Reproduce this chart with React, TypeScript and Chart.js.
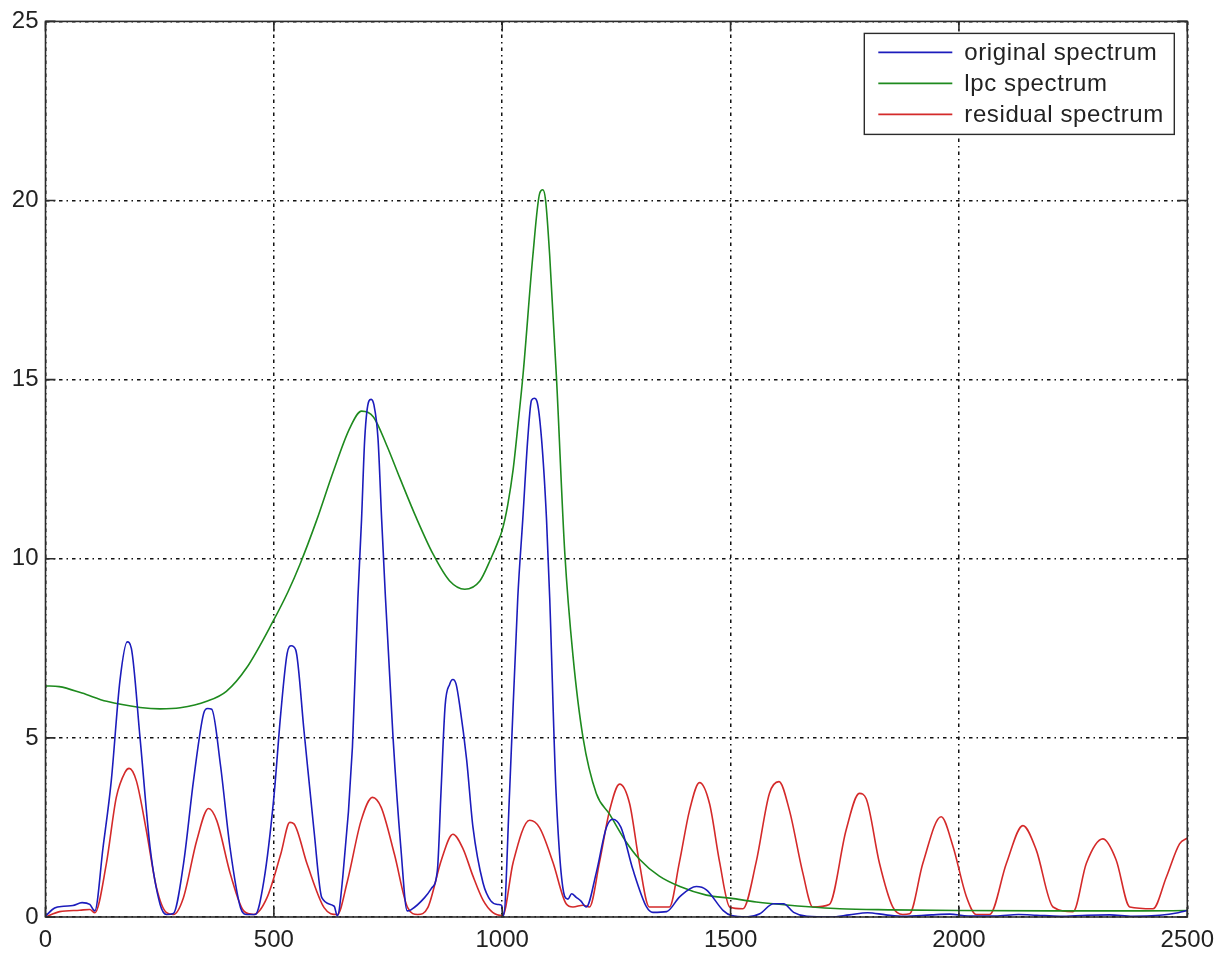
import { useEffect, useRef } from "react";
import { Chart, registerables } from "chart.js";

Chart.register(...registerables);

// ---- axis ticks ----
const xTickValues = [0, 500, 1000, 1500, 2000, 2500];
const yTickValues = [0, 5, 10, 15, 20, 25];

// ---- series labels ----
const seriesLabels = ["original spectrum", "lpc spectrum", "residual spectrum"];

// ---- original spectrum ----
const origFreq = [
  0, 20, 40, 60, 80, 97, 108, 126, 144, 163, 179, 188, 207, 229, 251, 265, 280, 302, 324, 346,
  355, 364, 383, 404, 427, 441, 459, 478, 500, 515, 529, 538, 548, 566, 588, 605, 632, 639, 650, 672,
  684, 692, 699, 708, 713, 719, 728, 736, 744, 761, 778, 792, 800, 830, 845, 858, 866, 875, 885, 892,
  899, 907, 922, 936, 958, 975, 990, 998, 1003, 1016, 1034, 1045, 1056, 1064, 1070, 1076, 1086, 1097, 1104, 1118,
  1137, 1144, 1152, 1162, 1172, 1184, 1206, 1228, 1242, 1260, 1286, 1316, 1330, 1360, 1389, 1425, 1447, 1484, 1502, 1535,
  1564, 1594, 1616, 1638, 1667, 1720, 1760, 1800, 1840, 1880, 1940, 1980, 2020, 2080, 2130, 2170, 2220, 2280, 2330, 2380,
  2440, 2480, 2500,
];
const origMag = [
  0.03, 0.25, 0.3, 0.32, 0.4, 0.35, 0.17, 1.94, 3.8, 6.6, 7.68, 7.5, 5.0, 1.94, 0.35, 0.07, 0.1, 1.47, 3.8, 5.67,
  5.82, 5.8, 4.25, 1.94, 0.26, 0.07, 0.07, 1.0, 3.34, 5.67, 7.35, 7.57, 7.45, 5.2, 2.4, 0.54, 0.3, 0.03, 1.0, 4.74,
  8.9, 11.1, 13.36, 14.4, 14.45, 14.3, 13.36, 11.1, 9.0, 5.0, 1.94, 0.17, 0.2, 0.54, 0.8, 1.3, 3.5, 5.9, 6.5, 6.63,
  6.5, 5.9, 4.4, 2.5, 0.95, 0.45, 0.35, 0.33, 0.04, 3.45, 8.9, 11.1, 13.36, 14.42, 14.48, 14.4, 13.36, 11.1, 8.9, 3.45,
  0.57, 0.5, 0.65, 0.55, 0.45, 0.28, 1.24, 2.5, 2.73, 2.5, 1.33, 0.28, 0.13, 0.15, 0.57, 0.85, 0.76, 0.18, 0.04, 0.0,
  0.09, 0.37, 0.37, 0.13, 0.02, 0.0, 0.06, 0.12, 0.06, 0.02, 0.06, 0.08, 0.03, 0.03, 0.07, 0.05, 0.02, 0.05, 0.06, 0.02,
  0.05, 0.12, 0.18,
];

// ---- lpc spectrum ----
const lpcFreq = [
  0, 30, 80, 134, 207, 251, 295, 353, 396, 440, 498, 531, 557, 593, 630, 666, 692, 718, 747, 776,
  812, 849, 885, 918, 951, 975, 990, 1000, 1012, 1024, 1035, 1046, 1067, 1082, 1089, 1095, 1104, 1119, 1137, 1155,
  1177, 1206, 1235, 1271, 1300, 1344, 1389, 1447, 1502, 1556, 1629, 1739, 1850, 2000, 2200, 2400, 2500,
];
const lpcMag = [
  6.45, 6.43, 6.25, 6.02, 5.85, 5.81, 5.84, 6.02, 6.3, 6.95, 8.25, 9.08, 9.84, 11.05, 12.43, 13.64, 14.12, 13.96, 13.17, 12.25,
  11.14, 10.12, 9.38, 9.15, 9.38, 10.0, 10.45, 10.8, 11.5, 12.5, 13.8, 15.2, 18.45, 20.2, 20.3, 20.0, 18.45, 15.0, 10.16, 7.28,
  5.0, 3.45, 2.87, 2.1, 1.62, 1.14, 0.85, 0.61, 0.52, 0.42, 0.33, 0.23, 0.2, 0.18, 0.17, 0.17, 0.18,
];

// ---- residual spectrum ----
const resFreq = [
  0, 31, 75, 97, 108, 133, 155, 174, 183, 199, 221, 243, 265, 280, 302, 331, 357, 375, 405, 434,
  456, 485, 515, 535, 544, 573, 610, 639, 661, 691, 716, 735, 764, 793, 815, 837, 867, 892, 914, 936,
  958, 979, 1001, 1024, 1060, 1082, 1111, 1140, 1155, 1177, 1191, 1213, 1235, 1257, 1279, 1300, 1322, 1366, 1388, 1410,
  1432, 1454, 1476, 1498, 1527, 1556, 1585, 1606, 1629, 1658, 1680, 1716, 1753, 1782, 1797, 1826, 1855, 1877, 1892, 1921,
  1961, 1987, 2016, 2038, 2067, 2104, 2140, 2169, 2206, 2250, 2279, 2315, 2344, 2374, 2425, 2454, 2483, 2500,
];
const resMag = [
  0.0, 0.15, 0.19, 0.21, 0.12, 1.47, 3.34, 4.04, 4.15, 3.8, 2.4, 0.82, 0.12, 0.07, 0.54, 2.13, 3.03, 2.69, 1.19, 0.17,
  0.07, 0.54, 1.75, 2.64, 2.6, 1.47, 0.26, 0.07, 1.0, 2.69, 3.34, 3.06, 1.75, 0.26, 0.07, 0.26, 1.6, 2.31, 1.91, 1.14,
  0.47, 0.13, 0.04, 1.53, 2.7, 2.49, 1.53, 0.37, 0.28, 0.33, 0.28, 1.53, 2.97, 3.71, 3.16, 1.53, 0.28, 0.28, 1.53, 2.97,
  3.75, 3.16, 1.53, 0.28, 0.23, 1.53, 3.45, 3.78, 2.97, 1.24, 0.28, 0.35, 2.43, 3.45, 3.3, 1.5, 0.28, 0.07, 0.09, 1.5,
  2.8, 1.97, 0.58, 0.07, 0.07, 1.5, 2.55, 1.88, 0.28, 0.15, 1.5, 2.18, 1.6, 0.28, 0.23, 1.11, 2.04, 2.2,
];

const seriesColors = ["#1c1cbc", "#1e8a1e", "#d42a2a"];

const zip = (xs: number[], ys: number[]) => xs.map((x, i) => ({ x, y: ys[i] }));

const frameAndLegend = {
  id: "frameAndLegend",
  afterDatasetsDraw(chart: any) {
    const { ctx, chartArea: a, scales } = chart;
    ctx.save();
    ctx.setLineDash([]);
    ctx.strokeStyle = "#2b2b2b";
    ctx.lineWidth = 1.6;
    ctx.strokeRect(a.left, a.top, a.right - a.left, a.bottom - a.top);
    const L = 10;
    ctx.beginPath();
    scales.x.ticks.forEach((t: any) => {
      const px = scales.x.getPixelForValue(t.value);
      ctx.moveTo(px, a.bottom);
      ctx.lineTo(px, a.bottom - L);
      ctx.moveTo(px, a.top);
      ctx.lineTo(px, a.top + L);
    });
    scales.y.ticks.forEach((t: any) => {
      const py = scales.y.getPixelForValue(t.value);
      ctx.moveTo(a.left, py);
      ctx.lineTo(a.left + L, py);
      ctx.moveTo(a.right, py);
      ctx.lineTo(a.right - L, py);
    });
    ctx.stroke();

    // legend box
    const w = 310;
    const h = 101;
    const bx = a.right - 13 - w;
    const by = a.top + 12;
    ctx.fillStyle = "#ffffff";
    ctx.fillRect(bx, by, w, h);
    ctx.lineWidth = 1.4;
    ctx.strokeStyle = "#2b2b2b";
    ctx.strokeRect(bx, by, w, h);
    ctx.font = '24px "Liberation Sans", Arial, sans-serif';
    (ctx as any).letterSpacing = "0.6px";
    ctx.textBaseline = "middle";
    ctx.textAlign = "left";
    chart.data.datasets.forEach((ds: any, i: number) => {
      const ry = by + 19 + i * 31;
      ctx.strokeStyle = ds.borderColor;
      ctx.lineWidth = 1.6;
      ctx.beginPath();
      ctx.moveTo(bx + 14, ry);
      ctx.lineTo(bx + 88, ry);
      ctx.stroke();
      ctx.fillStyle = "#222222";
      ctx.fillText(ds.label, bx + 100, ry + 1);
    });
    ctx.restore();
  },
};

export default function App() {
  const canvasRef = useRef<HTMLCanvasElement | null>(null);

  useEffect(() => {
    if (!canvasRef.current) return;
    const tickFont = { family: '"Liberation Sans", Arial, sans-serif', size: 24 };
    const gridCommon = {
      color: "#111111",
      lineWidth: 1.5,
      drawTicks: false,
    };
    const gridDash = [3.5, 4, 1.5, 4];
    const chart = new Chart(canvasRef.current, {
      type: "line",
      data: {
        datasets: [
          { label: seriesLabels[0], data: zip(origFreq, origMag), borderColor: seriesColors[0] },
          { label: seriesLabels[1], data: zip(lpcFreq, lpcMag), borderColor: seriesColors[1] },
          { label: seriesLabels[2], data: zip(resFreq, resMag), borderColor: seriesColors[2] },
        ].map((d) => ({
          ...d,
          backgroundColor: d.borderColor,
          borderWidth: 1.6,
          pointRadius: 0,
          fill: false,
          cubicInterpolationMode: "monotone" as const,
        })),
      },
      options: {
        animation: false,
        responsive: true,
        maintainAspectRatio: false,
        layout: { padding: { top: 20, right: 35, left: 0, bottom: 0 } },
        plugins: {
          legend: { display: false },
          title: { display: false },
          tooltip: { enabled: false },
        },
        scales: {
          x: {
            type: "linear",
            min: 0,
            max: 2500,
            afterBuildTicks: (s: any) => {
              s.ticks = xTickValues.map((v) => ({ value: v }));
            },
            afterFit: (s: any) => {
              s.height = 37;
            },
            ticks: {
              font: tickFont,
              color: "#222222",
              padding: 9,
              maxRotation: 0,
              callback: (v: any) => String(v),
            },
            grid: gridCommon,
            border: { display: false, dash: gridDash },
          },
          y: {
            type: "linear",
            min: 0,
            max: 25,
            afterBuildTicks: (s: any) => {
              s.ticks = yTickValues.map((v) => ({ value: v }));
            },
            afterFit: (s: any) => {
              s.width = 45.5;
            },
            ticks: {
              font: tickFont,
              color: "#222222",
              padding: 7,
              callback: (v: any) => String(v),
            },
            grid: gridCommon,
            border: { display: false, dash: gridDash },
          },
        },
      },
      plugins: [frameAndLegend],
    });
    return () => chart.destroy();
  }, []);

  return (
    <div
      style={{
        position: "fixed",
        left: 0,
        top: 0,
        width: 1223,
        height: 954,
        background: "#ffffff",
      }}
    >
      <canvas ref={canvasRef} />
    </div>
  );
}
